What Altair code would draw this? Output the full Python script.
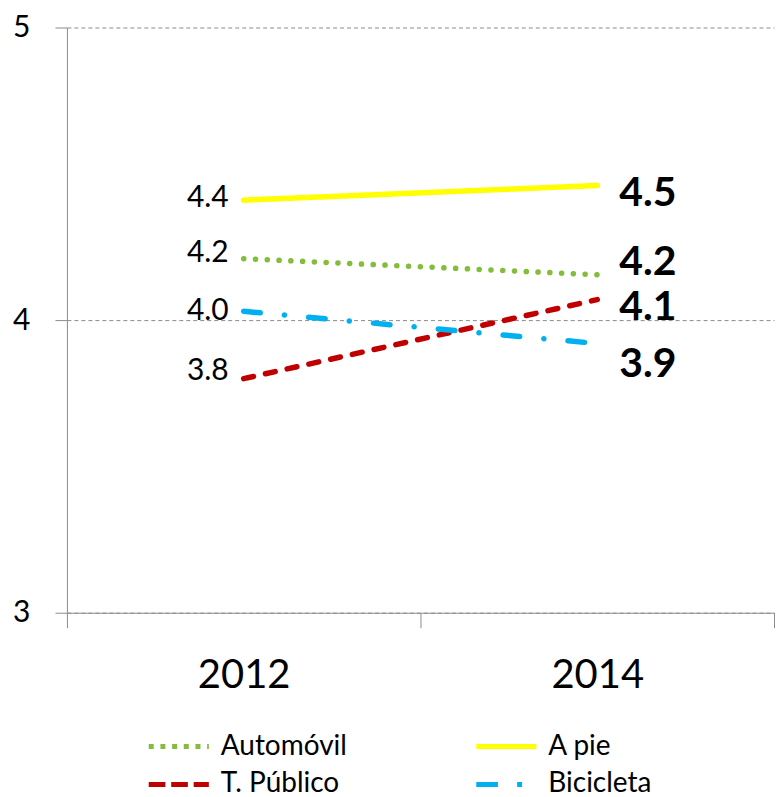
import altair as alt
import pandas as pd

years = ["2012", "2014"]
series = ["Automóvil", "A pie", "T. Público", "Bicicleta"]
v2012 = [4.21, 4.41, 3.80, 4.03]
v2014 = [4.155, 4.46, 4.07, 3.92]

colors = ["#83BD3A", "#FFFF00", "#C00000", "#00B0F0"]
# dash patterns for the round-capped lines in the plot
dashes = [[0.1, 11.7], [1, 0], [10, 12.3], [16.7, 24.2, 0.1, 24.2]]
# dash patterns for the butt-capped legend symbols
legend_dashes = [[5, 6.7], [1, 0], [16.7, 5.8], [21.7, 19.2, 5, 19.2]]
left_dy = [-6, -2, -8, 0]
right_dy = [-12, 9, 8, 22]

rows = []
for s, a, b in zip(series, v2012, v2014):
    rows.append({"year": years[0], "serie": s, "value": a})
    rows.append({"year": years[1], "serie": s, "value": b})
df = pd.DataFrame(rows)

FONT = "Lato"
GRAY = "#8C8C8C"

x = alt.X("year:N", title=None,
          scale=alt.Scale(type="band", paddingInner=0, paddingOuter=0),
          axis=alt.Axis(labelAngle=0, labelFontSize=40, labelFont=FONT, labelColor="black",
                        tickBand="extent", tickSize=15, tickColor=GRAY, domainColor=GRAY,
                        labelPadding=28, grid=False, zindex=1))
y = alt.Y("value:Q", title=None,
          scale=alt.Scale(domain=[3, 5], nice=False, zero=False),
          axis=alt.Axis(tickCount=3, format="d", labelFontSize=30, labelFont=FONT,
                        labelColor="black", tickSize=12, tickColor=GRAY, domainColor=GRAY,
                        labelPadding=25, minExtent=59, grid=True, gridColor=GRAY,
                        gridDash=[4, 3], gridWidth=1, labelOverlap=False))

lines = alt.Chart(df).mark_line(strokeWidth=5.5, strokeCap="round").encode(
    x=x, y=y,
    color=alt.Color("serie:N", scale=alt.Scale(domain=series, range=colors), legend=None),
    strokeDash=alt.StrokeDash("serie:N", scale=alt.Scale(domain=series, range=dashes),
                              legend=None),
)

legend_props = dict(title=None, orient="none", legendX=88, legendY=696,
                    direction="horizontal", columns=2, columnPadding=118, rowPadding=0,
                    symbolType="M-1.4,0H1.4", symbolSize=1849, symbolStrokeWidth=5,
                    labelFontSize=28, labelFont=FONT, labelColor="black", labelOffset=18)

legend_layer = alt.Chart(df).transform_filter(alt.datum.value < 0).mark_line(
    strokeWidth=5
).encode(
    x=x, y=y,
    color=alt.Color("serie:N", scale=alt.Scale(domain=series, range=colors),
                    legend=alt.Legend(**legend_props)),
    strokeDash=alt.StrokeDash("serie:N", scale=alt.Scale(domain=series, range=legend_dashes),
                              legend=alt.Legend(**legend_props)),
)

texts = []
for s, ldy, rdy in zip(series, left_dy, right_dy):
    base = alt.Chart(df).transform_filter(alt.datum.serie == s)
    texts.append(base.transform_filter(alt.datum.year == years[0]).mark_text(
        align="right", baseline="middle", dx=-15, dy=ldy, fontSize=30, font=FONT, color="black"
    ).encode(x=x, y=y, text=alt.Text("value:Q", format=".1f")))
    texts.append(base.transform_filter(alt.datum.year == years[1]).mark_text(
        align="left", baseline="middle", dx=22, dy=rdy, fontSize=41, fontWeight="bold",
        font=FONT, color="black"
    ).encode(x=x, y=y, text=alt.Text("value:Q", format=".1f")))

chart = alt.layer(lines, legend_layer, *texts).resolve_scale(
    color="independent", strokeDash="independent"
).properties(
    width=708, height=586,
    padding={"left": 0, "top": 4, "right": 0, "bottom": 0},
).configure_view(stroke=None)

chart.save("out.html", embed_options={"renderer": "svg", "actions": False})
